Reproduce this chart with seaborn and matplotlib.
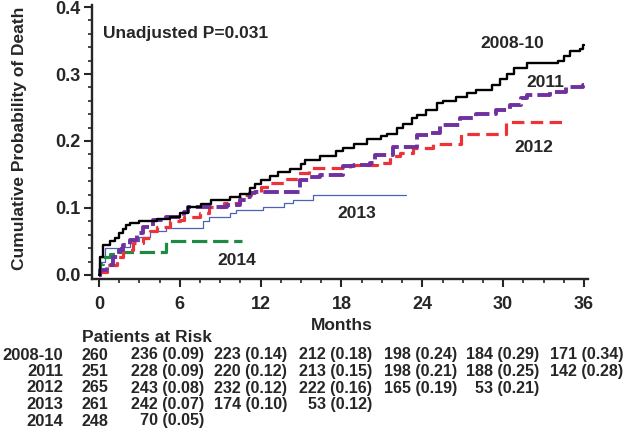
import matplotlib
matplotlib.use("Agg")
import matplotlib.pyplot as plt
import matplotlib.transforms as mtransforms
from matplotlib.ticker import MultipleLocator, FormatStrFormatter
import seaborn as sns
import pandas as pd

# ---------------- data ----------------
groups = ["2008-10", "2011", "2012", "2013", "2014"]

t_2008 = [0, 0.1, 0.3, 0.8, 1.2, 1.5, 1.8, 2.0, 2.3, 3.0, 4.3, 5.3, 6.0, 6.6, 7.6, 8.3, 9.7,
          10.5, 11.2, 11.6, 12.0, 12.7, 13.3, 14.2, 15.0, 15.3, 16.4, 17.6, 18.1, 18.9, 19.9,
          20.9, 21.4, 22.1, 22.6, 23.2, 23.6, 24.3, 25.1, 25.5, 26.5, 27.3, 28.0, 29.2, 29.8,
          30.3, 30.8, 31.75, 34.1, 34.5, 35.0, 35.7, 35.95, 36.0]
p_2008 = [0, 0.027, 0.045, 0.05, 0.055, 0.063, 0.068, 0.074, 0.078, 0.08, 0.083, 0.086, 0.092,
          0.102, 0.106, 0.112, 0.117, 0.121, 0.13, 0.136, 0.142, 0.148, 0.153, 0.158, 0.165,
          0.171, 0.177, 0.185, 0.189, 0.196, 0.203, 0.208, 0.211, 0.219, 0.226, 0.234, 0.239,
          0.247, 0.256, 0.26, 0.265, 0.272, 0.276, 0.284, 0.292, 0.3, 0.309, 0.316, 0.32, 0.327,
          0.334, 0.337, 0.343, 0.343]

t_2011 = [0, 0.1, 0.57, 1.06, 1.5, 1.8, 2.3, 2.8, 3.3, 4.0, 5.0, 6.3, 6.6, 9.5, 10.5, 10.9,
          11.2, 11.6, 14.9, 15.6, 16.4, 18.1, 18.9, 20.1, 20.5, 21.8, 23.6, 24.5, 25.3, 26.8,
          28.0, 29.5, 30.5, 31.3, 31.75, 33.5, 34.7, 35.9, 36.0]
p_2011 = [0, 0.008, 0.015, 0.027, 0.037, 0.045, 0.052, 0.062, 0.072, 0.082, 0.087, 0.094,
          0.101, 0.105, 0.112, 0.117, 0.122, 0.124, 0.142, 0.147, 0.149, 0.162, 0.164, 0.167,
          0.179, 0.191, 0.209, 0.212, 0.224, 0.234, 0.241, 0.246, 0.254, 0.264, 0.269, 0.273,
          0.28, 0.284, 0.284]

t_2012 = [0, 0.1, 0.57, 1.3, 1.8, 2.55, 3.3, 3.8, 4.3, 5.3, 6.0, 6.3, 7.5, 8.2, 9.3, 10.5, 11.3,
          12.0, 12.6, 13.7, 14.8, 15.6, 18.6, 20.6, 21.6, 22.35, 23.3, 24.8, 26.9, 30.2, 34.5]
p_2012 = [0, 0.005, 0.015, 0.027, 0.037, 0.047, 0.055, 0.065, 0.072, 0.08, 0.082, 0.087, 0.092,
          0.102, 0.107, 0.119, 0.124, 0.132, 0.137, 0.144, 0.152, 0.159, 0.164, 0.167, 0.177,
          0.182, 0.189, 0.196, 0.211, 0.229, 0.229]

t_2013 = [0, 0.1, 0.45, 1.56, 2.3, 3.0, 3.8, 5.0, 7.7, 8.2, 9.7, 10.2, 12.2, 13.7, 14.4, 15.9, 22.8]
p_2013 = [0, 0.02, 0.04, 0.042, 0.05, 0.057, 0.065, 0.07, 0.08, 0.087, 0.092, 0.097, 0.102,
          0.107, 0.112, 0.12, 0.12]

t_2014 = [0, 0.1, 0.3, 0.8, 1.4, 5.0, 10.6]
p_2014 = [0, 0.017, 0.027, 0.032, 0.035, 0.05, 0.05]

x_ticks = [0, 6, 12, 18, 24, 30, 36]
risk_2008 = ["260", "236 (0.09)", "223 (0.14)", "212 (0.18)", "198 (0.24)", "184 (0.29)", "171 (0.34)"]
risk_2011 = ["251", "228 (0.09)", "220 (0.12)", "213 (0.15)", "198 (0.21)", "188 (0.25)", "142 (0.28)"]
risk_2012 = ["265", "243 (0.08)", "232 (0.12)", "222 (0.16)", "165 (0.19)", "53 (0.21)"]
risk_2013 = ["261", "242 (0.07)", "174 (0.10)", "53 (0.12)"]
risk_2014 = ["248", "70 (0.05)"]
p_text = "Unadjusted P=0.031"

# ---------------- styling ----------------
sns.set_style("ticks")
plt.rcParams["font.family"] = ["Liberation Sans", "DejaVu Sans"]
plt.rcParams["font.weight"] = "bold"

series = {
    "2008-10": (t_2008, p_2008),
    "2011": (t_2011, p_2011),
    "2012": (t_2012, p_2012),
    "2013": (t_2013, p_2013),
    "2014": (t_2014, p_2014),
}
styles = {
    "2008-10": dict(color="#000000", lw=1.7, ls="-"),
    "2011": dict(color="#7030A0", lw=2.8, ls=(0, (4.0, 1.3))),
    "2012": dict(color="#EE3338", lw=2.3, ls=(0, (3.9, 2.0))),
    "2013": dict(color="#4A63B5", lw=0.9, ls="-"),
    "2014": dict(color="#1F8A45", lw=2.3, ls=(0, (4.8, 1.8))),
}

fig = plt.figure(figsize=(6.3, 4.3), dpi=100)
ax = fig.add_axes([92 / 630, 1 - 279 / 430, (588 - 92) / 630, (279 - 5) / 430])

for g in ["2013", "2014", "2012", "2011", "2008-10"]:
    t, p = series[g]
    df = pd.DataFrame({"Months": t, "Prob": p})
    st = styles[g]
    sns.lineplot(data=df, x="Months", y="Prob", ax=ax, estimator=None, sort=False,
                 drawstyle="steps-post", color=st["color"], linewidth=st["lw"],
                 linestyle=st["ls"])

ax.set_xlim(-0.52, 36.3)
ax.set_ylim(-0.006, 0.403)
ax.set_xticks(x_ticks)
ax.xaxis.set_minor_locator(MultipleLocator(1.5))
ax.set_yticks([0, 0.1, 0.2, 0.3, 0.4])
ax.yaxis.set_minor_locator(MultipleLocator(0.02))
ax.yaxis.set_major_formatter(FormatStrFormatter("%.1f"))
ax.tick_params(which="major", direction="out", length=6, width=1.5, labelsize=13, pad=2)
ax.tick_params(which="minor", direction="out", length=3, width=1.2)
ax.tick_params(axis="x", which="major", pad=6)
for lab in ax.get_xticklabels() + ax.get_yticklabels():
    lab.set_fontweight("bold")
for s in ["top", "right"]:
    ax.spines[s].set_visible(False)
for s in ["left", "bottom"]:
    ax.spines[s].set_linewidth(1.7)

ax.set_xlabel("")
ax.set_ylabel("Cumulative Probability of Death", fontsize=12.5, fontweight="bold")
ax.yaxis.set_label_coords(-0.131, 0.515)

# annotations
fs = 12.5
ax.text(0.3, 0.361, p_text, fontsize=fs, fontweight="bold", ha="left", va="center")
ax.text(30.7, 0.346, "2008-10", fontsize=fs, fontweight="bold", ha="center", va="center")
ax.text(33.1, 0.287, "2011", fontsize=fs, fontweight="bold", ha="center", va="center")
ax.text(32.3, 0.191, "2012", fontsize=fs, fontweight="bold", ha="center", va="center")
ax.text(19.1, 0.0925, "2013", fontsize=fs, fontweight="bold", ha="center", va="center")
ax.text(10.2, 0.022, "2014", fontsize=fs, fontweight="bold", ha="center", va="center")

# Months label and risk table
blend = mtransforms.blended_transform_factory(ax.transData, fig.transFigure)
fig.text(18, 1 - 326 / 430, "Months", transform=blend, fontsize=12.5, fontweight="bold",
         ha="center", va="center")
fig.text(82 / 630, 1 - 338 / 430, "Patients at Risk", fontsize=12.5, fontweight="bold",
         ha="left", va="center")

rows = [risk_2008, risk_2011, risk_2012, risk_2013, risk_2014]
col_offsets = [0.67, 1.8, 1.96, 2.3, 2.6, 2.7, 2.9]
for i, (g, row) in enumerate(zip(groups, rows)):
    yf = 1 - (355 + 16.5 * i) / 430
    fig.text(63 / 630, yf, g, fontsize=12, fontweight="bold", ha="right", va="center")
    for j, txt in enumerate(row):
        fig.text(x_ticks[j] + col_offsets[j], yf, txt, transform=blend, fontsize=11.6,
                 fontweight="bold", ha="right", va="center")

fig.savefig("out.png", dpi=100)
